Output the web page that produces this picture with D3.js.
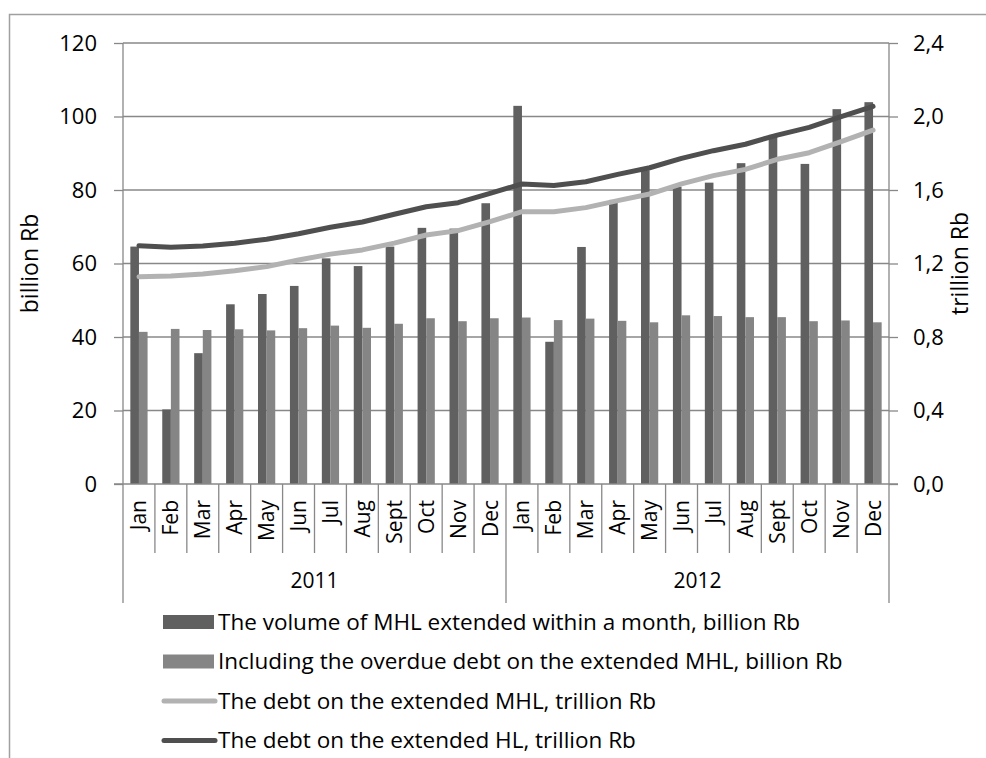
<!DOCTYPE html>
<html>
<head>
<meta charset="utf-8">
<script src="https://cdn.jsdelivr.net/npm/d3@7/dist/d3.min.js"></script>
<style>
  body { margin: 0; background: #fff; }
  svg { display: block; font-family: 'Open Sans', sans-serif; }
</style>
</head>
<body>
<div id="chart"></div>
<script>
const months = ['Jan', 'Feb', 'Mar', 'Apr', 'May', 'Jun', 'Jul', 'Aug', 'Sept', 'Oct', 'Nov', 'Dec'];
const years = ['2011', '2012'];
const volumeMHL = [64.6, 20.3, 35.6, 48.9, 51.7, 53.9, 61.4, 59.3, 64.6, 69.7, 69.5, 76.4,
                   102.9, 38.7, 64.5, 77.3, 85.4, 80.9, 82.0, 87.3, 95.0, 87.1, 102.0, 103.9];
const overdueMHL = [41.4, 42.2, 41.9, 42.1, 41.8, 42.4, 43.1, 42.5, 43.6, 45.1, 44.3, 45.1,
                    45.3, 44.6, 45.0, 44.4, 44.0, 45.9, 45.7, 45.4, 45.4, 44.3, 44.5, 44.0];
const debtMHL = [1.128, 1.132, 1.143, 1.161, 1.183, 1.219, 1.251, 1.274, 1.311, 1.355, 1.379, 1.428,
                 1.482, 1.482, 1.504, 1.542, 1.578, 1.633, 1.678, 1.712, 1.767, 1.803, 1.863, 1.926];
const debtHL = [1.297, 1.288, 1.295, 1.310, 1.332, 1.362, 1.397, 1.426, 1.468, 1.509, 1.531, 1.582,
                1.633, 1.625, 1.645, 1.685, 1.721, 1.772, 1.814, 1.849, 1.899, 1.941, 1.999, 2.055];
const leftTicks = [0, 20, 40, 60, 80, 100, 120];
const rightTicks = [0, 0.4, 0.8, 1.2, 1.6, 2.0, 2.4];
const legendLabels = [
  'The volume of MHL extended within a month, billion Rb',
  'Including the overdue debt on the extended MHL, billion Rb',
  'The debt on the extended MHL, trillion Rb',
  'The debt on the extended HL, trillion Rb'
];

const W = 986, H = 758;
const margin = { top: 43, right: 97, bottom: 274, left: 123 };
const width = W - margin.left - margin.right;
const height = H - margin.top - margin.bottom;

const gridColor = '#888888';
const darkBar = '#606060';
const lightBar = '#858585';
const darkLine = '#4f4f4f';
const lightLine = '#b2b2b2';

const n = volumeMHL.length;
const cats = d3.range(n);

const x = d3.scaleBand().domain(cats).range([0, width]);
const xSub = d3.scaleBand().domain([0, 1]).range([x.bandwidth() * 0.23, x.bandwidth() * 0.77]);
const yLeft = d3.scaleLinear().domain([0, 120]).range([height, 0]);
const yRight = d3.scaleLinear().domain([0, 2.4]).range([height, 0]);

const svg = d3.select('#chart').append('svg')
  .attr('width', W)
  .attr('height', H);

// outer chart border
svg.append('rect')
  .attr('x', 9.5).attr('y', 14.5)
  .attr('width', W).attr('height', H)
  .attr('fill', 'none')
  .attr('stroke', '#a0a0a0')
  .attr('stroke-width', 1.5);

const g = svg.append('g')
  .attr('transform', `translate(${margin.left},${margin.top})`);

// gridlines
g.append('g').selectAll('line')
  .data(leftTicks.slice(1))
  .enter().append('line')
    .attr('x1', 0).attr('x2', width)
    .attr('y1', d => yLeft(d)).attr('y2', d => yLeft(d))
    .attr('stroke', gridColor)
    .attr('stroke-width', 1.3);

// left axis
const leftAxis = d3.axisLeft(yLeft).tickValues(leftTicks).tickSize(9).tickPadding(17);
const la = g.append('g').call(leftAxis);
la.select('.domain').attr('stroke', gridColor).attr('stroke-width', 1.3).attr('d', `M0,0V${height}`);
la.selectAll('.tick line').attr('stroke', gridColor).attr('stroke-width', 1.3);
la.selectAll('.tick text').attr('font-size', 22).attr('fill', '#000').attr('font-family', 'Open Sans');

// right axis
const rightAxis = d3.axisRight(yRight).tickValues(rightTicks).tickSize(9).tickPadding(15)
  .tickFormat(d => d3.format('.1f')(d).replace('.', ','));
const ra = g.append('g').attr('transform', `translate(${width},0)`).call(rightAxis);
ra.select('.domain').attr('stroke', gridColor).attr('stroke-width', 1.3).attr('d', `M0,0V${height}`);
ra.selectAll('.tick line').attr('stroke', gridColor).attr('stroke-width', 1.3);
ra.selectAll('.tick text').attr('font-size', 22).attr('fill', '#000').attr('font-family', 'Open Sans');

// axis titles
g.append('text')
  .attr('transform', `translate(${-85},${height / 2}) rotate(-90)`)
  .attr('text-anchor', 'middle')
  .attr('font-size', 23)
  .text('billion Rb');
g.append('text')
  .attr('transform', `translate(${width + 79},${height / 2}) rotate(-90)`)
  .attr('text-anchor', 'middle')
  .attr('font-size', 23)
  .text('trillion Rb');

// bars
g.append('g').selectAll('rect.vol')
  .data(volumeMHL)
  .enter().append('rect')
    .attr('x', (d, i) => x(i) + xSub(0))
    .attr('y', d => yLeft(d))
    .attr('width', xSub.bandwidth())
    .attr('height', d => height - yLeft(d))
    .attr('fill', darkBar);

g.append('g').selectAll('rect.over')
  .data(overdueMHL)
  .enter().append('rect')
    .attr('x', (d, i) => x(i) + xSub(1))
    .attr('y', d => yLeft(d))
    .attr('width', xSub.bandwidth())
    .attr('height', d => height - yLeft(d))
    .attr('fill', lightBar);

// category axis
const cat = g.append('g').attr('transform', `translate(0,${height})`);
cat.append('line')
  .attr('x1', -9).attr('x2', width + 9)
  .attr('stroke', gridColor).attr('stroke-width', 1.3);
const bounds = d3.range(n + 1);
cat.selectAll('line.div')
  .data(bounds)
  .enter().append('line')
    .attr('x1', i => i < n ? x(i) : width)
    .attr('x2', i => i < n ? x(i) : width)
    .attr('y1', 0)
    .attr('y2', i => i % 12 === 0 ? 119 : 69)
    .attr('stroke', gridColor)
    .attr('stroke-width', 1.3);
cat.selectAll('text.month')
  .data(cats)
  .enter().append('text')
    .attr('transform', i => `translate(${x(i) + x.bandwidth() / 2 + 7.5},16) rotate(-90)`)
    .attr('text-anchor', 'end')
    .attr('font-size', 21)
    .text(i => months[i % 12]);
cat.selectAll('text.year')
  .data(years)
  .enter().append('text')
    .attr('x', (d, k) => (x(k * 12) + (k === 1 ? width : x(12))) / 2)
    .attr('y', 104)
    .attr('text-anchor', 'middle')
    .attr('font-size', 21)
    .text(d => d);

// lines
const lineGen = d3.line()
  .x((d, i) => x(i) + x.bandwidth() / 2)
  .y(d => yRight(d));

g.append('path')
  .datum(debtMHL)
  .attr('d', lineGen)
  .attr('fill', 'none')
  .attr('stroke', lightLine)
  .attr('stroke-width', 5)
  .attr('stroke-linejoin', 'round')
  .attr('stroke-linecap', 'round');

g.append('path')
  .datum(debtHL)
  .attr('d', lineGen)
  .attr('fill', 'none')
  .attr('stroke', darkLine)
  .attr('stroke-width', 5)
  .attr('stroke-linejoin', 'round')
  .attr('stroke-linecap', 'round');

// legend
const legend = svg.append('g').attr('transform', 'translate(163,622)');
const rows = legend.selectAll('g')
  .data(legendLabels)
  .enter().append('g')
    .attr('transform', (d, i) => `translate(0,${i * 39.5})`);
rows.each(function(d, i) {
  const r = d3.select(this);
  if (i < 2) {
    r.append('rect')
      .attr('x', 0).attr('y', -7)
      .attr('width', 51).attr('height', 14)
      .attr('fill', i === 0 ? darkBar : lightBar);
  } else {
    r.append('line')
      .attr('x1', 1).attr('x2', 52)
      .attr('stroke', i === 2 ? lightLine : darkLine)
      .attr('stroke-width', 5)
      .attr('stroke-linecap', 'round');
  }
  r.append('text')
    .attr('x', 55)
    .attr('dy', '0.35em')
    .attr('font-size', 22.5)
    .text(d);
});
</script>
</body>
</html>
